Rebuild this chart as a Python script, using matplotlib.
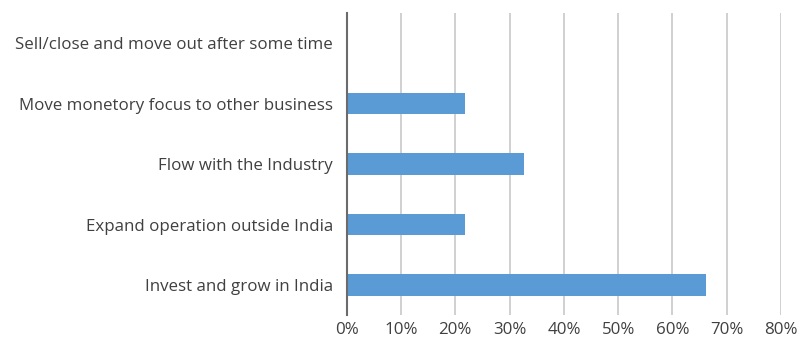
import matplotlib.pyplot as plt
from matplotlib.ticker import PercentFormatter

# categories from bottom to top
categories = ['Invest and grow in India',
              'Expand operation outside India',
              'Flow with the Industry',
              'Move monetory focus to other business',
              'Sell/close and move out after some time']
values = [66.2, 21.8, 32.7, 21.8, 0.0]
ticks = [0, 10, 20, 30, 40, 50, 60, 70, 80]

plt.rcParams['font.family'] = ['Open Sans', 'DejaVu Sans']

fig, ax = plt.subplots(figsize=(7.97, 3.39), dpi=100)
fig.subplots_adjust(left=0.435, right=0.98, top=0.962, bottom=0.07)

ax.barh(range(len(categories)), values, height=0.36, color='#5b9bd5', zorder=3)

ax.set_xlim(0, 80)
ax.set_ylim(-0.5, len(categories) - 0.5)
ax.set_xticks(ticks)
ax.xaxis.set_major_formatter(PercentFormatter(decimals=0))
ax.set_yticks(range(len(categories)))
ax.set_yticklabels(categories)

ax.grid(axis='x', color='#c8c8c8', linewidth=1.2, zorder=0)
for s in ['top', 'right', 'bottom']:
    ax.spines[s].set_visible(False)
ax.spines['left'].set_color('#6b6b6b')
ax.spines['left'].set_linewidth(1.5)
ax.spines['left'].set_zorder(4)

ax.tick_params(axis='both', length=0, labelsize=12.2, labelcolor='#404040')
ax.tick_params(axis='y', pad=10)
ax.tick_params(axis='x', pad=5)

fig.savefig('out.png', dpi=100)
